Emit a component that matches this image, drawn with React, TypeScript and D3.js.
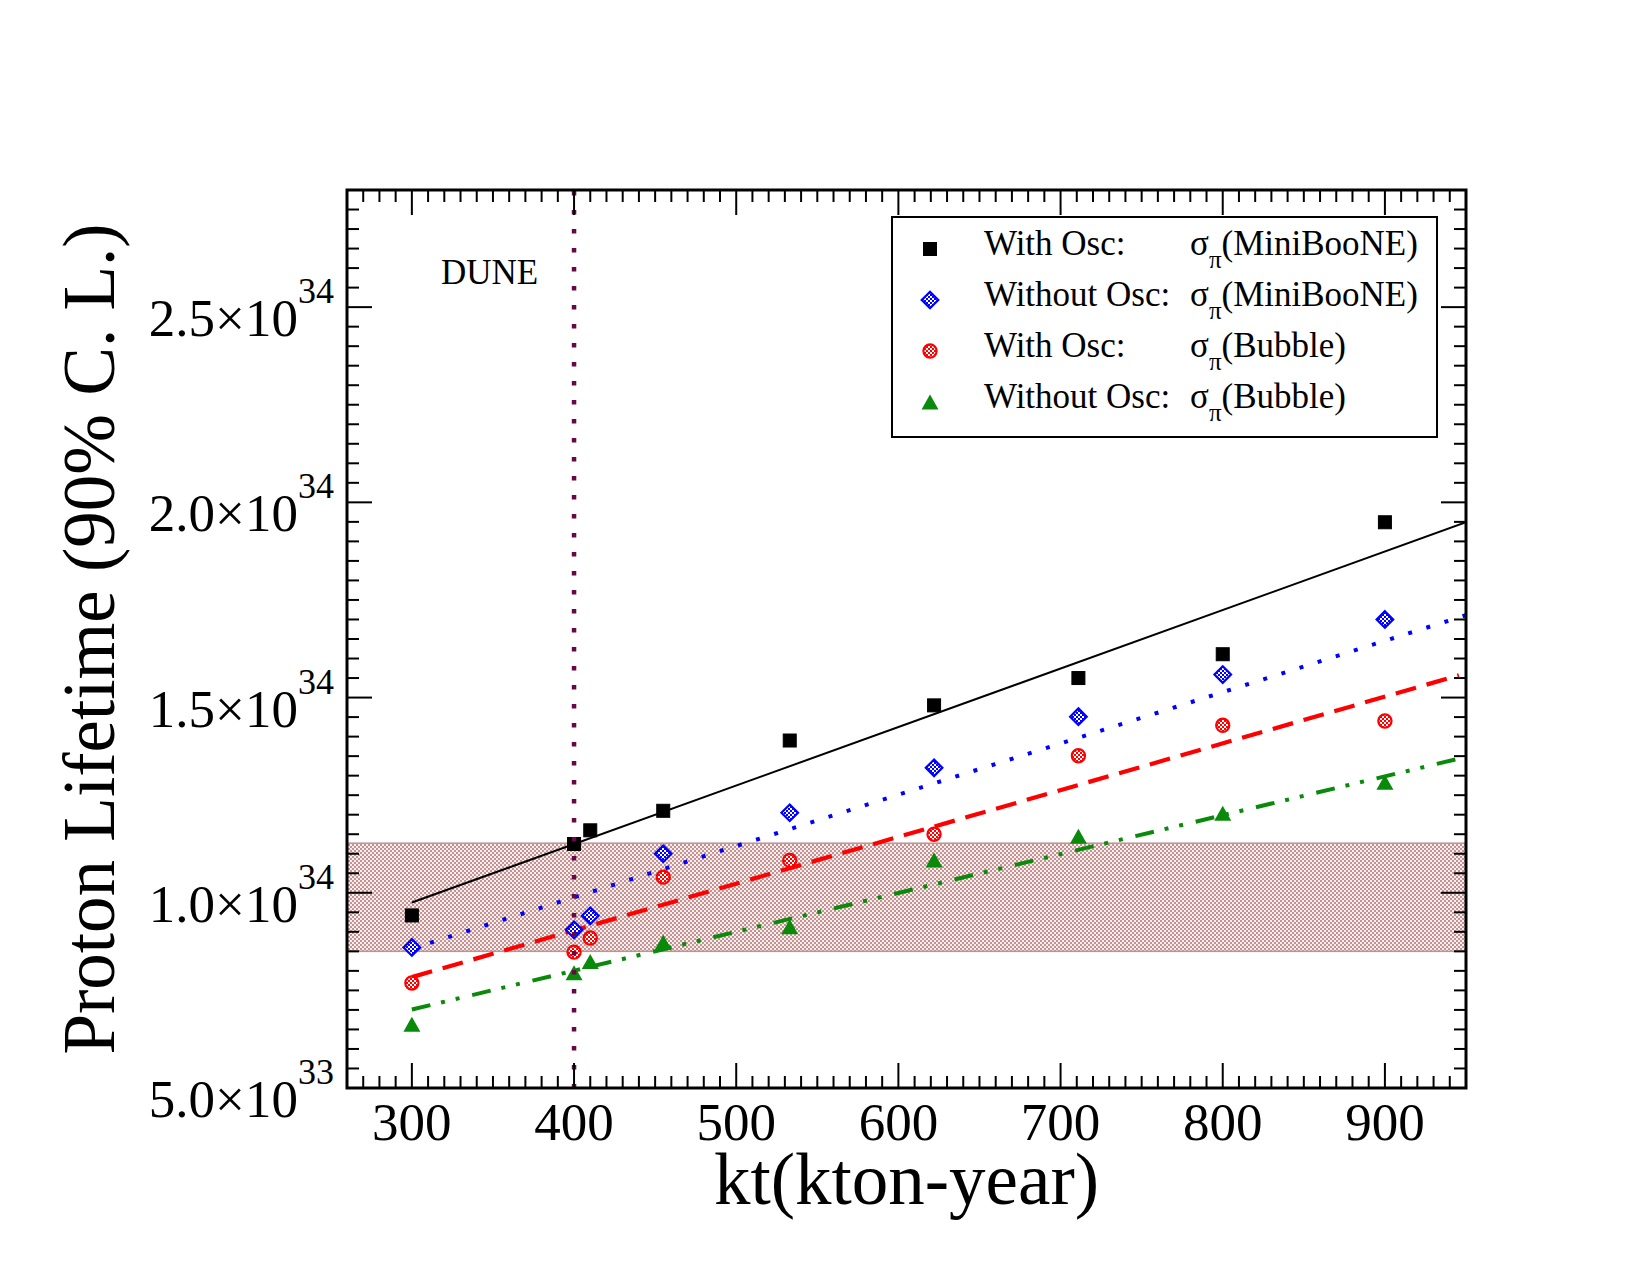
import * as d3 from 'd3';

// Exposure (kton-year) at which each limit was evaluated
const kt = [300, 400, 410, 455, 533, 622, 711, 800, 900];

// Proton lifetime limits, in units of 10^34 years
const withOscMiniBooNE = [0.942, 1.125, 1.16, 1.21, 1.39, 1.48, 1.55, 1.611, 1.949];
const withoutOscMiniBooNE = [0.86, 0.905, 0.941, 1.1, 1.205, 1.32, 1.451, 1.559, 1.7];
const withOscBubble = [0.769, 0.848, 0.884, 1.04, 1.083, 1.15, 1.351, 1.429, 1.44];
const withoutOscBubble = [0.663, 0.795, 0.824, 0.873, 0.913, 1.084, 1.145, 1.204, 1.283];

// Linear fits: [kt, lifetime] at both ends
const fitWithOscMiniBooNE: [number, number][] = [[300, 0.975], [950, 1.949]];
const fitWithoutOscMiniBooNE: [number, number][] = [[300, 0.857], [950, 1.711]];
const fitWithOscBubble: [number, number][] = [[300, 0.784], [945.6, 1.557]];
const fitWithoutOscBubble: [number, number][] = [[300, 0.701], [944, 1.342]];

// Current experimental bound band and the DUNE exposure
const boundBand = [0.85, 1.127];
const duneKt = 400;

const xTicks = [300, 400, 500, 600, 700, 800, 900];
const yTickValues = [0.5, 1.0, 1.5, 2.0, 2.5];
const yTickMantissa = ['5.0', '1.0', '1.5', '2.0', '2.5'];
const yTickExponent = ['33', '34', '34', '34', '34'];

const legendLabels = ['With Osc:', 'Without Osc:', 'With Osc:', 'Without Osc:'];
const legendSource = ['(MiniBooNE)', '(MiniBooNE)', '(Bubble)', '(Bubble)'];

const FONT = "'Liberation Serif', 'Times New Roman', Times, serif";

type Shape = 'square' | 'diamond' | 'circle' | 'triangle';

interface Series {
  values: number[];
  fit: [number, number][];
  color: string;
  shape: Shape;
  dash: string;
  width: number;
}

const series: Series[] = [
  { values: withOscMiniBooNE, fit: fitWithOscMiniBooNE, color: '#000000', shape: 'square', dash: 'none', width: 2 },
  { values: withoutOscMiniBooNE, fit: fitWithoutOscMiniBooNE, color: '#0000ff', shape: 'diamond', dash: '4 15', width: 4 },
  { values: withOscBubble, fit: fitWithOscBubble, color: '#ff0000', shape: 'circle', dash: '21 11', width: 4.2 },
  { values: withoutOscBubble, fit: fitWithoutOscBubble, color: '#0a8a0a', shape: 'triangle', dash: '19 11 4 11 4 13', width: 4 },
];

function Marker({ shape, cx, cy, color }: { shape: Shape; cx: number; cy: number; color: string }) {
  if (shape === 'square') {
    return <rect x={cx - 6.5} y={cy - 6.5} width={13} height={13} fill={color} stroke={color} strokeWidth={1} />;
  }
  if (shape === 'diamond') {
    const r = 8.3;
    return (
      <path
        d={`M${cx},${cy - r}L${cx + r},${cy}L${cx},${cy + r}L${cx - r},${cy}Z`}
        fill="url(#checkBlue)"
        stroke={color}
        strokeWidth={2.2}
      />
    );
  }
  if (shape === 'circle') {
    return <circle cx={cx} cy={cy} r={6.6} fill="url(#checkRed)" stroke={color} strokeWidth={2.2} />;
  }
  return (
    <path d={`M${cx},${cy - 7.5}L${cx + 8.5},${cy + 7.5}L${cx - 8.5},${cy + 7.5}Z`} fill={color} />
  );
}

export default function App() {
  const width = 1650;
  const height = 1275;
  const left = 347;
  const right = 1466;
  const top = 190;
  const bottom = 1088;

  const x = d3.scaleLinear().domain([260, 950]).range([left, right]);
  const y = d3.scaleLinear().domain([0.5, 2.8]).range([bottom, top]);

  const line = d3
    .line<[number, number]>()
    .x(d => x(d[0]))
    .y(d => y(d[1]));

  const xMinor = d3.range(26, 96).map(i => i * 10);
  const yMinor = d3.range(10, 57).map(i => Math.round(i * 5) / 100);
  const majorLen = 25;
  const minorLen = 12;

  return (
    <div style={{ position: 'absolute', left: 0, top: 0 }}>
      <svg width={width} height={height} style={{ display: 'block', background: '#fff' }} fontFamily={FONT}>
        <defs>
          <pattern id="bandHatch" width={4} height={4} patternUnits="userSpaceOnUse">
            <rect width={4} height={4} fill="#f7eeee" />
            <rect width={2} height={2} fill="#c49292" />
            <rect x={2} y={2} width={2} height={2} fill="#c49292" />
          </pattern>
          <pattern id="checkBlue" width={4} height={4} patternUnits="userSpaceOnUse">
            <rect width={4} height={4} fill="#fff" />
            <rect width={2} height={2} fill="#0000ff" />
            <rect x={2} y={2} width={2} height={2} fill="#0000ff" />
          </pattern>
          <pattern id="checkRed" width={4} height={4} patternUnits="userSpaceOnUse">
            <rect width={4} height={4} fill="#fff" />
            <rect width={2} height={2} fill="#ff0000" />
            <rect x={2} y={2} width={2} height={2} fill="#ff0000" />
          </pattern>
          <clipPath id="plotArea">
            <rect x={left} y={top} width={right - left} height={bottom - top} />
          </clipPath>
        </defs>

        {/* bound band */}
        <rect
          x={left}
          y={y(boundBand[1])}
          width={right - left}
          height={y(boundBand[0]) - y(boundBand[1])}
          fill="url(#bandHatch)"
          stroke="#bc9494"
          strokeWidth={1.5}
        />

        {/* fit lines */}
        <g clipPath="url(#plotArea)">
          {series.map((s, i) => (
            <path
              key={`fit-${i}`}
              d={line(s.fit) ?? ''}
              fill="none"
              stroke={s.color}
              strokeWidth={s.width}
              strokeDasharray={s.dash}
            />
          ))}
        </g>

        {/* data points */}
        {series.map((s, i) => (
          <g key={`pts-${i}`}>
            {s.values.map((v, j) => (
              <Marker key={j} shape={s.shape} cx={x(kt[j])} cy={y(v)} color={s.color} />
            ))}
          </g>
        ))}

        {/* DUNE exposure */}
        <line
          x1={x(duneKt)}
          x2={x(duneKt)}
          y1={top + 1}
          y2={bottom}
          stroke="#670748"
          strokeWidth={4.5}
          strokeDasharray="4.5 14.5"
        />
        <text x={441} y={284} fontSize={35} fill="#000">
          DUNE
        </text>

        {/* ticks on all four sides */}
        <g stroke="#000" strokeWidth={2}>
          {xMinor.map(v => {
            const len = v % 100 === 0 ? majorLen : minorLen;
            return (
              <g key={`xt-${v}`}>
                <line x1={x(v)} x2={x(v)} y1={bottom} y2={bottom - len} />
                <line x1={x(v)} x2={x(v)} y1={top} y2={top + len} />
              </g>
            );
          })}
          {yMinor.map(v => {
            const len = Math.round(v * 100) % 50 === 0 ? majorLen : minorLen;
            return (
              <g key={`yt-${v}`}>
                <line x1={left} x2={left + len} y1={y(v)} y2={y(v)} />
                <line x1={right} x2={right - len} y1={y(v)} y2={y(v)} />
              </g>
            );
          })}
        </g>
        <rect x={left} y={top} width={right - left} height={bottom - top} fill="none" stroke="#000" strokeWidth={3} />

        {/* tick labels */}
        {xTicks.map(v => (
          <text key={`xl-${v}`} x={x(v)} y={1140} textAnchor="middle" fontSize={53}>
            {v}
          </text>
        ))}
        {yTickValues.map((v, i) => (
          <text key={`yl-${v}`} x={334} y={y(v) + 29} textAnchor="end" fontSize={53}>
            {yTickMantissa[i]}×10
            <tspan dy={-33} fontSize={36}>
              {yTickExponent[i]}
            </tspan>
          </text>
        ))}

        {/* axis titles */}
        <text x={(left + right) / 2} y={1204} textAnchor="middle" fontSize={73}>
          kt(kton-year)
        </text>
        <text
          transform={`translate(114,${(top + bottom) / 2}) rotate(-90)`}
          textAnchor="middle"
          fontSize={73}
        >
          Proton Lifetime (90% C. L.)
        </text>

        {/* legend */}
        <rect x={892} y={217} width={545} height={220} fill="#fff" stroke="#000" strokeWidth={2} />
        {series.map((s, i) => {
          const base = 255 + i * 51;
          return (
            <g key={`lg-${i}`}>
              <Marker shape={s.shape} cx={930} cy={base - 6} color={s.color} />
              <text x={984} y={base} fontSize={35}>
                {legendLabels[i]}
              </text>
              <text x={1190} y={base} fontSize={35}>
                σ
                <tspan dy={13} fontSize={25}>
                  π
                </tspan>
                <tspan dy={-13}>{legendSource[i]}</tspan>
              </text>
            </g>
          );
        })}
      </svg>
    </div>
  );
}
